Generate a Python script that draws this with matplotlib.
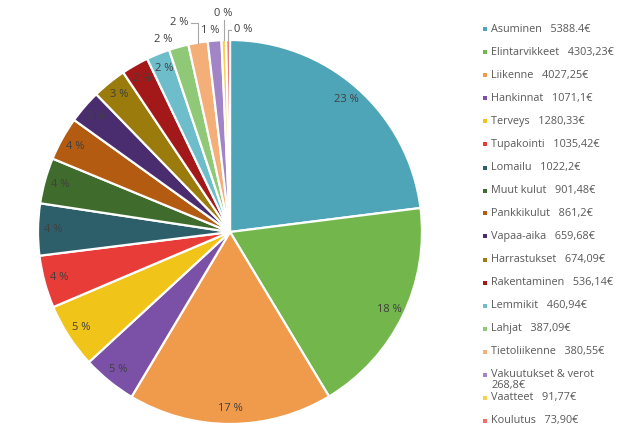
import numpy as np
import matplotlib
matplotlib.use("Agg")
import matplotlib.pyplot as plt
from matplotlib.patches import Rectangle

categories = ["Asuminen", "Elintarvikkeet", "Liikenne", "Hankinnat", "Terveys",
              "Tupakointi", "Lomailu", "Muut kulut", "Pankkikulut", "Vapaa-aika",
              "Harrastukset", "Rakentaminen", "Lemmikit", "Lahjat", "Tietoliikenne",
              "Vakuutukset & verot", "Vaatteet", "Koulutus"]
values = [5388.4, 4303.23, 4027.25, 1071.1, 1280.33, 1035.42, 1022.2, 901.48,
          861.2, 659.68, 674.09, 536.14, 460.94, 387.09, 380.55, 268.8, 91.77, 73.90]
value_labels = ["5388.4€", "4303,23€", "4027,25€", "1071,1€", "1280,33€", "1035,42€",
                "1022,2€", "901,48€", "861,2€", "659,68€", "674,09€", "536,14€",
                "460,94€", "387,09€", "380,55€", "268,8€", "91,77€", "73,90€"]
legend_breaks = {15}  # Vakuutukset & verot wraps onto a second line

colors = ["#4FA5B8", "#72B64C", "#F09A4C", "#7B51A7", "#F0C418", "#E73C38",
          "#2D5F6A", "#3F6C2C", "#B25B11", "#4A2D6F", "#9A7B0B", "#A31818",
          "#6DBDCB", "#8FC978", "#F4AF78", "#A285C6", "#F5D152", "#EE6E6A"]

plt.rcParams['font.family'] = ['Open Sans', 'DejaVu Sans']
W, H = 640, 444
fig = plt.figure(figsize=(W / 100, H / 100), dpi=100)
fig.patch.set_facecolor("white")

cx, cy, R = 230, 232, 192
ax = fig.add_axes([(cx - R) / W, (H - cy - R) / H, 2 * R / W, 2 * R / H])
wedges, _ = ax.pie(values, colors=colors, startangle=90, counterclock=False,
                   radius=1.0, wedgeprops=dict(edgecolor="white", linewidth=1.6))
ax.set_xlim(-1, 1)
ax.set_ylim(-1, 1)
ax.set_aspect("equal")
ax.axis("off")

total = sum(values)
pct_color = "#404040"
# outside label placements for the thin slices: index -> (radius, angle shift deg, leader)
outside = {13: (1.06, 3.6, False), 14: (1.12, 4.0, True), 15: (1.055, 0.9, False),
           16: (1.14, 0.0, True), 17: (1.055, -4.2, True)}
for i, (w, v) in enumerate(zip(wedges, values)):
    mid = np.deg2rad((w.theta1 + w.theta2) / 2)
    txt = f"{round(100 * v / total):d} %"
    if i in outside:
        r, shift, leader = outside[i]
        a = mid + np.deg2rad(shift)
        lx, ly = r * np.cos(a), r * np.sin(a)
        if leader:
            ex, ey = np.cos(mid), np.sin(mid)
            if i == 14:
                pts = [(ex, ey), (ex, ly), (lx + 0.06, ly)]
            elif i == 16:
                pts = [(ex, ey), (ex, ly - 0.035)]
            else:
                pts = [(ex, ey), (ex, ly), (lx - 0.06, ly)]
            ax.plot(*zip(*pts), color="#A6A6A6", lw=0.8, clip_on=False)
        ax.text(lx, ly, txt, ha="center", va="center", fontsize=8, color=pct_color)
    else:
        r = 0.92
        ax.text(r * np.cos(mid), r * np.sin(mid), txt, ha="center", va="center",
                fontsize=8, color=pct_color)

# legend
y0, step = 29.5, 23.0
mx, tx = 485, 491
for i, (name, vl, c) in enumerate(zip(categories, value_labels, colors)):
    y = y0 + i * step
    if i in legend_breaks:
        lines = [name, vl]
        gap = 11.0
    else:
        lines = [name + "   " + vl]
        gap = 0
    fig.patches.append(Rectangle(((mx - 2) / W, 1 - (y + 2) / H), 4 / W, 4 / H,
                                 transform=fig.transFigure, facecolor=c,
                                 edgecolor="none"))
    for k, line in enumerate(lines):
        fig.text(tx / W, 1 - (y + k * gap) / H, line, ha="left", va="center",
                 fontsize=7.8, color="#595959")

fig.savefig("out.png", dpi=100, facecolor="white")
